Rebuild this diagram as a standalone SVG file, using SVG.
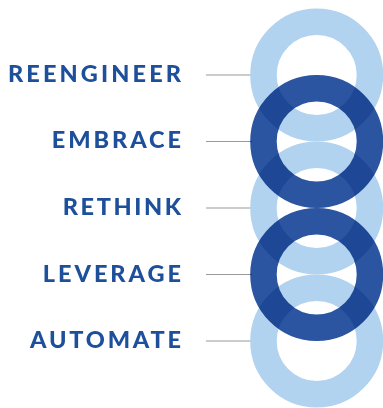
<svg xmlns="http://www.w3.org/2000/svg" width="383" height="408" viewBox="0 0 383 408">
  <style>
    .label { font-family: "Lato", "Liberation Sans", sans-serif; font-weight: 900; font-size: 23.5px; fill: #1d4f9b; }
    .lead { stroke: #9a9a9a; stroke-width: 1.2; fill: none; }
    .ring { fill: none; stroke-width: 26.5; }
    .light { stroke: #b1d3ef; }
    .dark { stroke: #2b55a0; mix-blend-mode: multiply; }
  </style>
  <rect width="383" height="408" fill="#ffffff"/>

  <g id="connectors">
    <line class="lead" x1="206" y1="75" x2="252" y2="75"/>
    <line class="lead" x1="206" y1="141.5" x2="252" y2="141.5"/>
    <line class="lead" x1="206" y1="208" x2="252" y2="208"/>
    <line class="lead" x1="206" y1="274.5" x2="252" y2="274.5"/>
    <line class="lead" x1="206" y1="341" x2="252" y2="341"/>
  </g>

  <g id="rings">
    <circle id="ring-reengineer" class="ring light" cx="316.7" cy="75" r="53.25"/>
    <circle id="ring-rethink" class="ring light" cx="316.7" cy="208" r="53.25"/>
    <circle id="ring-automate" class="ring light" cx="316.7" cy="341" r="53.25"/>
    <circle id="ring-embrace" class="ring dark" cx="316.7" cy="141.5" r="53.25"/>
    <circle id="ring-leverage" class="ring dark" cx="316.7" cy="274.5" r="53.25"/>
  </g>

  <g id="label-reengineer">
    <text class="label" x="8" y="81.7" textLength="173" lengthAdjust="spacing">REENGINEER</text>
  </g>
  <g id="label-embrace">
    <text class="label" x="51.7" y="148" textLength="129.3" lengthAdjust="spacing">EMBRACE</text>
  </g>
  <g id="label-rethink">
    <text class="label" x="62.7" y="214.8" textLength="118.3" lengthAdjust="spacing">RETHINK</text>
  </g>
  <g id="label-leverage">
    <text class="label" x="42.7" y="281.5" textLength="138.3" lengthAdjust="spacing">LEVERAGE</text>
  </g>
  <g id="label-automate">
    <text class="label" x="30" y="347.5" textLength="151" lengthAdjust="spacing">AUTOMATE</text>
  </g>
</svg>
